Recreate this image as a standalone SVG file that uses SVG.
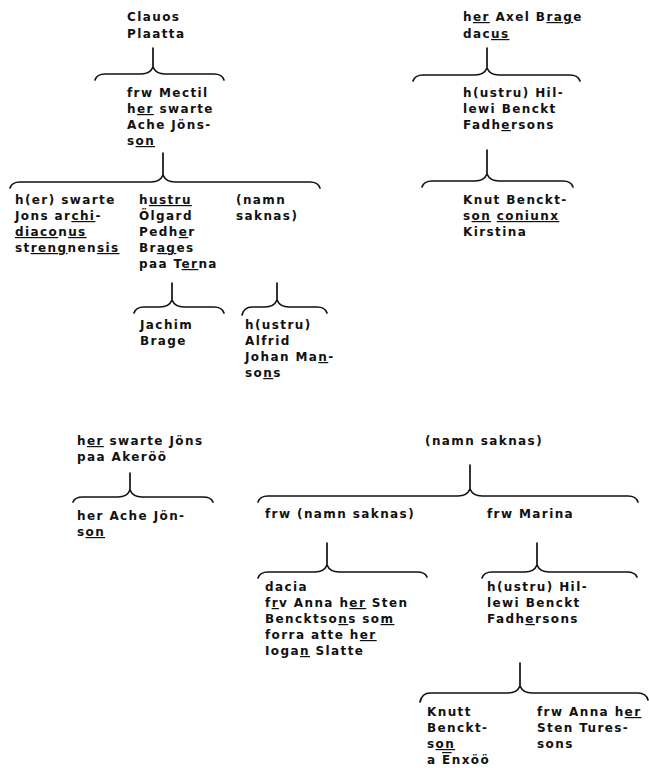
<svg xmlns="http://www.w3.org/2000/svg" width="649" height="768" viewBox="0 0 649 768">
<style>
.t{font-family:"DejaVu Sans",sans-serif;font-weight:bold;font-size:12px;letter-spacing:1.4px;fill:#111}
.u{text-decoration:underline}
.o{text-decoration:overline}
.c path{fill:none;stroke:#111;stroke-width:1.7;stroke-linecap:round;stroke-linejoin:round}
</style>
<rect width="649" height="768" fill="#fff"/>
<g class="c" id="connectors">
<path d="M153,48 L153,67 M95,80 Q97,74 105,74 L141,74 Q150,74 153,67 Q156,74 165,74 L214,74 Q222,74 224,80"/>
<path d="M163,153 L163,175 M10,188 Q12,182 20,182 L151,182 Q160,182 163,175 Q166,182 175,182 L310,182 Q318,182 320,188"/>
<path d="M172,283 L172,300 M134,313 Q136,307 144,307 L160,307 Q169,307 172,300 Q175,307 184,307 L214,307 Q222,307 224,313"/>
<path d="M277,283 L277,300 M242,315 Q244,307 252,307 L265,307 Q274,307 277,300 Q280,307 289,307 L317,307 Q325,307 327,313"/>
<path d="M487,48 L487,68 M413,81 Q415,75 423,75 L475,75 Q484,75 487,68 Q490,75 499,75 L570,75 Q578,75 580,81"/>
<path d="M487,150 L487,174 M422,187 Q424,181 432,181 L475,181 Q484,181 487,174 Q490,181 499,181 L563,181 Q571,181 573,187"/>
<path d="M130,473 L130,490 M73,502 Q75,497 83,497 L118,497 Q127,497 130,490 Q133,497 142,497 L203,497 Q211,497 213,502"/>
<path d="M470,465 L470,489 M258,502 Q260,496 268,496 L458,496 Q467,496 470,489 Q473,496 482,496 L628,496 Q636,496 638,502"/>
<path d="M327,543 L327,565 M258,578 Q260,572 268,572 L315,572 Q324,572 327,565 Q330,572 339,572 L417,572 Q425,572 427,577"/>
<path d="M537,543 L537,565 M482,578 Q484,572 492,572 L525,572 Q534,572 537,565 Q540,572 549,572 L627,572 Q635,572 637,577"/>
<path d="M520,663 L520,686 M420,702 Q422,693 430,693 L508,693 Q517,693 520,686 Q523,693 532,693 L638,693 Q646,693 648,700"/>
</g>
<g id="n-clauos"><text class="t" x="127" y="21">Clauos</text><text class="t" x="127" y="38">Plaatta</text></g>
<g id="n-mectil"><text class="t" x="127" y="97">frw Mectil</text><text class="t" x="127" y="113">h<tspan class="u">er</tspan> swarte</text><text class="t" x="127" y="129">Ache Jöns-</text><text class="t" x="127" y="145">s<tspan class="u">on</tspan></text></g>
<g id="n-jons"><text class="t" x="15" y="204">h(er) swarte</text><text class="t" x="15" y="220">Jons ar<tspan class="u">chi</tspan>-</text><text class="t" x="15" y="236"><tspan class="u">diaco</tspan>n<tspan class="u">us</tspan></text><text class="t" x="15" y="252">st<tspan class="u">reng</tspan>nen<tspan class="u">sis</tspan></text></g>
<g id="n-olgard"><text class="t" x="139" y="204">h<tspan class="u">ustru</tspan></text><text class="t" x="139" y="220">Ölgard</text><text class="t" x="139" y="236">Pedh<tspan class="u">e</tspan>r</text><text class="t" x="139" y="252">Br<tspan class="u">ag</tspan>es</text><text class="t" x="139" y="268">paa T<tspan class="u">er</tspan>na</text></g>
<g id="n-namn1"><text class="t" x="236" y="204">(namn</text><text class="t" x="236" y="220">saknas)</text></g>
<g id="n-jachim"><text class="t" x="140" y="329">Jachim</text><text class="t" x="140" y="345">Brage</text></g>
<g id="n-alfrid"><text class="t" x="245" y="329">h(ustru)</text><text class="t" x="245" y="345">Alfrid</text><text class="t" x="245" y="361">Johan Ma<tspan class="u">n</tspan>-</text><text class="t" x="245" y="377">so<tspan class="u">n</tspan>s</text></g>
<g id="n-axel"><text class="t" x="463" y="21">h<tspan class="u">er</tspan> Axel B<tspan class="u">rag</tspan>e</text><text class="t" x="463" y="38">dac<tspan class="u">us</tspan></text></g>
<g id="n-hillewi1"><text class="t" x="463" y="97">h(ustru) Hil-</text><text class="t" x="463" y="113">lewi Benckt</text><text class="t" x="463" y="129">Fadh<tspan class="u">e</tspan>rsons</text></g>
<g id="n-knut"><text class="t" x="463" y="204">Knut Benckt-</text><text class="t" x="463" y="220">s<tspan class="u">on</tspan> <tspan class="u">coniunx</tspan></text><text class="t" x="463" y="236">Kirstina</text></g>
<g id="n-jons2"><text class="t" x="77" y="445">h<tspan class="u">er</tspan> swarte Jöns</text><text class="t" x="77" y="461">paa Akeröö</text></g>
<g id="n-ache2"><text class="t" x="77" y="520">her Ache Jön-</text><text class="t" x="77" y="536">s<tspan class="u">on</tspan></text></g>
<g id="n-namn2"><text class="t" x="425" y="445">(namn saknas)</text></g>
<g id="n-frwnamn"><text class="t" x="265" y="518">frw (namn saknas)</text></g>
<g id="n-marina"><text class="t" x="487" y="518">frw Marina</text></g>
<g id="n-dacia"><text class="t" x="265" y="591">dacia</text><text class="t" x="265" y="607">f<tspan class="u">r</tspan>v Anna h<tspan class="u">er</tspan> Sten</text><text class="t" x="265" y="623">Bencktso<tspan class="u">n</tspan>s so<tspan class="u">m</tspan></text><text class="t" x="265" y="639">forra atte h<tspan class="u">er</tspan></text><text class="t" x="265" y="655">Ioga<tspan class="u">n</tspan> Slatte</text></g>
<g id="n-hillewi2"><text class="t" x="487" y="591">h(ustru) Hil-</text><text class="t" x="487" y="607">lewi Benckt</text><text class="t" x="487" y="623">Fadh<tspan class="u">e</tspan>rsons</text></g>
<g id="n-knutt"><text class="t" x="427" y="716">Knutt</text><text class="t" x="427" y="732">Benckt-</text><text class="t" x="427" y="748">s<tspan class="u">on</tspan></text><text class="t" x="427" y="764">a <tspan class="o">E</tspan>nxöö</text></g>
<g id="n-anna"><text class="t" x="537" y="716">frw Anna h<tspan class="u">er</tspan></text><text class="t" x="537" y="732">Sten Tures-</text><text class="t" x="537" y="748">sons</text></g>
</svg>
